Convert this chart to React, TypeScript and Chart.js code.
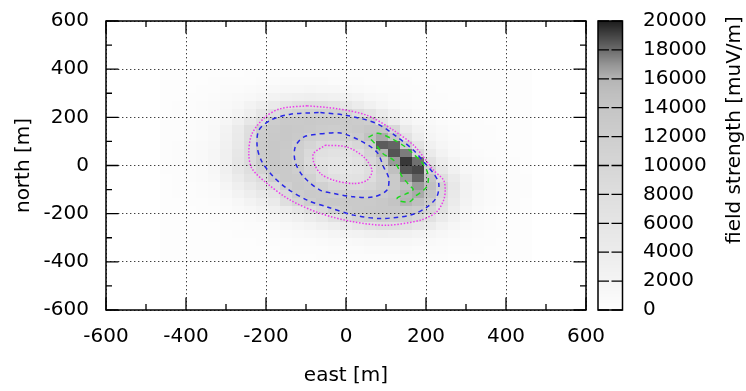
import { useEffect, useRef } from 'react';
import { Chart, registerables } from 'chart.js';

Chart.register(...registerables);

// ---------- data ----------
const X_CENTERS = [-450, -420, -390, -360, -330, -300, -270, -240, -210, -180, -150, -120, -90, -60, -30, 0, 30, 60, 90, 120, 150, 180, 210, 240, 270, 300, 330, 360, 390, 420, 450];
const Y_CENTERS = [383.3, 350, 316.7, 283.3, 250, 216.7, 183.3, 150, 116.7, 83.3, 50, 16.7, -16.7, -50, -83.3, -116.7, -150, -183.3, -216.7, -250, -283.3, -316.7, -350, -383.3];

// field strength in thousands of muV/m, one row per Y_CENTERS entry
const HEAT_ROWS: number[][] = [
  [0.2,0.2,0.2,0.3,0.3,0.3,0.3,0.4,0.4,0.4,0.5,0.5,0.5,0.5,0.5,0.5,0.4,0.4,0.4,0.3,0.3,0.3,0.3,0.3,0.2,0.2,0.2,0.2,0.2,0.2,0.2],
  [0.2,0.3,0.3,0.3,0.4,0.4,0.5,0.5,0.6,0.7,0.8,0.8,0.8,0.8,0.7,0.7,0.6,0.5,0.5,0.4,0.4,0.3,0.3,0.3,0.3,0.2,0.2,0.2,0.2,0.2,0.2],
  [0.3,0.3,0.3,0.4,0.5,0.6,0.7,0.8,1.0,1.2,1.4,1.5,1.6,1.5,1.4,1.2,1.0,0.8,0.7,0.6,0.5,0.4,0.4,0.3,0.3,0.3,0.2,0.2,0.2,0.2,0.2],
  [0.3,0.3,0.4,0.5,0.6,0.8,1.0,1.3,1.7,2.2,2.7,3.0,3.2,3.1,2.8,2.4,2.0,1.5,1.2,0.9,0.7,0.5,0.5,0.4,0.3,0.3,0.3,0.2,0.2,0.2,0.2],
  [0.3,0.4,0.5,0.6,0.8,1.0,1.5,2.2,3.2,4.6,6.3,7.4,7.9,7.6,6.8,5.5,4.0,2.8,1.9,1.3,0.9,0.7,0.5,0.4,0.4,0.3,0.3,0.3,0.2,0.2,0.2],
  [0.3,0.4,0.5,0.7,0.9,1.2,2.0,3.3,5.5,7.8,9.8,10.8,11.4,11.6,11.3,10.6,8.2,6.5,4.3,2.7,1.7,1.1,0.8,0.6,0.5,0.4,0.3,0.3,0.3,0.2,0.2],
  [0.4,0.5,0.6,0.8,1.1,1.6,3.0,5.5,8.1,12.2,12.8,13.0,13.1,13.0,12.8,12.6,12.5,11.9,7.0,4.0,2.3,1.4,1.0,0.7,0.5,0.4,0.4,0.3,0.3,0.2,0.2],
  [0.4,0.5,0.7,0.9,1.2,2.2,4.2,7.6,12.1,13.0,13.3,13.2,12.8,12.4,12.3,12.5,13.0,13.6,13.8,9.5,4.5,2.4,1.4,1.0,0.7,0.5,0.4,0.4,0.3,0.3,0.2],
  [0.4,0.5,0.7,0.9,1.3,2.5,4.6,8.0,12.3,13.2,13.4,12.8,11.6,11.0,10.8,11.2,12.3,14.5,16.3,13.5,7.0,3.5,1.8,1.2,0.8,0.6,0.5,0.4,0.3,0.3,0.2],
  [0.4,0.6,0.8,1.0,1.5,2.8,5.0,8.4,12.4,13.3,13.1,11.8,10.2,8.8,8.3,8.6,9.8,11.7,18.4,18.2,12.0,6.0,2.8,1.6,1.0,0.7,0.5,0.4,0.4,0.3,0.3],
  [0.4,0.6,0.8,1.0,1.6,3.0,5.3,8.5,12.5,13.4,13.0,11.6,9.0,7.4,6.8,7.0,8.0,10.5,16.0,18.6,17.6,9.5,4.2,2.2,1.3,0.9,0.6,0.5,0.4,0.3,0.3],
  [0.4,0.6,0.8,1.0,1.6,3.0,5.6,8.5,12.0,13.3,12.9,11.4,8.6,6.6,5.9,5.9,6.8,9.2,12.0,16.8,19.3,17.9,7.0,3.6,2.0,1.2,0.8,0.6,0.5,0.4,0.3],
  [0.4,0.5,0.7,0.9,1.5,2.9,5.4,7.8,10.8,12.8,13.0,12.1,9.8,7.6,6.0,5.5,6.0,7.8,11.2,14.8,18.6,18.9,10.5,5.5,2.8,1.5,1.0,0.7,0.5,0.4,0.3],
  [0.3,0.5,0.6,0.8,1.2,2.4,4.4,6.6,8.3,11.9,13.0,12.6,11.2,8.8,7.3,6.7,7.0,8.3,10.8,13.0,16.8,18.2,14.0,8.0,4.2,2.2,1.3,0.9,0.6,0.5,0.4],
  [0.3,0.4,0.5,0.7,0.9,1.8,3.2,4.8,6.6,8.6,11.4,12.8,12.4,11.2,9.8,9.0,9.0,9.8,11.3,12.8,14.6,16.8,14.8,10.5,5.2,2.6,1.4,0.9,0.6,0.5,0.4],
  [0.3,0.4,0.5,0.6,0.8,1.2,2.2,3.4,4.8,6.4,9.0,12.2,13.0,12.7,12.0,11.5,11.4,11.6,12.4,13.6,15.6,16.3,14.0,9.2,5.0,2.5,1.3,0.9,0.6,0.5,0.4],
  [0.3,0.3,0.4,0.5,0.7,0.9,1.5,2.3,3.3,4.6,7.8,10.0,11.9,12.8,13.1,13.0,12.9,13.0,13.4,14.2,15.9,14.8,12.2,8.1,4.3,2.2,1.2,0.8,0.6,0.4,0.3],
  [0.2,0.3,0.3,0.4,0.5,0.7,1.0,1.5,2.1,2.9,4.0,5.6,7.6,9.4,11.5,12.5,13.0,13.2,13.3,13.3,13.1,12.4,10.0,6.8,3.6,1.9,1.1,0.7,0.5,0.4,0.3],
  [0.2,0.2,0.3,0.3,0.4,0.5,0.7,0.9,1.2,1.6,2.2,3.0,4.0,5.2,7.2,8.8,10.4,11.6,12.1,11.8,11.0,9.4,6.8,4.3,2.5,1.5,0.9,0.6,0.5,0.3,0.3],
  [0.2,0.2,0.2,0.3,0.3,0.4,0.5,0.6,0.7,0.9,1.2,1.6,2.1,2.7,3.4,4.4,5.6,6.9,7.8,7.7,6.8,5.4,3.9,2.6,1.7,1.1,0.8,0.6,0.4,0.3,0.3],
  [0.2,0.2,0.2,0.2,0.3,0.3,0.4,0.4,0.5,0.6,0.8,1.0,1.2,1.5,1.8,2.2,2.6,3.0,3.2,3.1,2.8,2.3,1.8,1.4,1.0,0.8,0.6,0.5,0.4,0.3,0.2],
  [0.2,0.2,0.2,0.2,0.2,0.3,0.3,0.3,0.4,0.5,0.5,0.6,0.7,0.8,1.0,1.1,1.3,1.4,1.5,1.5,1.4,1.2,1.0,0.8,0.7,0.6,0.5,0.4,0.3,0.3,0.2],
  [0.2,0.2,0.2,0.2,0.2,0.2,0.2,0.3,0.3,0.3,0.4,0.4,0.5,0.5,0.6,0.7,0.7,0.8,0.8,0.8,0.8,0.7,0.6,0.6,0.5,0.4,0.4,0.3,0.3,0.2,0.2],
  [0.2,0.2,0.2,0.2,0.2,0.2,0.2,0.2,0.2,0.3,0.3,0.3,0.3,0.4,0.4,0.4,0.5,0.5,0.5,0.5,0.5,0.4,0.4,0.4,0.3,0.3,0.3,0.2,0.2,0.2,0.2],
];

// contour lines [east, north]
const CONTOUR_LOW_OUTER: [number, number][] = [[-97,248],[-23,236],[53,208],[119,146],[169,84],[203,15],[219,-20],[244,-61],[248,-103],[244,-144],[227,-192],[186,-227],[102,-248],[19,-234],[-64,-199],[-139,-144],[-197,-75],[-235,-13],[-243,50],[-235,132],[-202,201],[-164,236],[-97,248]];
const CONTOUR_LOW_INNER: [number, number][] = [[-52,84],[2,77],[44,36],[65,-20],[53,-61],[19,-75],[-31,-61],[-64,-33],[-81,15],[-81,50],[-52,84]];
const CONTOUR_MID_OUTER: [number, number][] = [[-64,220],[2,208],[77,174],[128,118],[169,63],[198,8],[219,-33],[232,-75],[227,-130],[203,-172],[161,-206],[86,-220],[19,-206],[-47,-172],[-97,-144],[-147,-96],[-181,-47],[-210,15],[-222,77],[-218,146],[-189,188],[-139,213],[-64,220]];
const CONTOUR_MID_INNER: [number, number][] = [[-64,132],[-14,135],[36,103],[77,56],[94,-6],[107,-54],[102,-103],[69,-130],[19,-130],[-31,-116],[-64,-103],[-106,-47],[-127,15],[-127,77],[-106,118],[-64,132]];
const CONTOUR_HIGH: [number, number][] = [[56,118],[80,134],[116,110],[146,80],[171,44],[191,10],[203,-25],[206,-55],[202,-88],[190,-108],[175,-125],[160,-150],[135,-148],[128,-135],[150,-118],[168,-100],[160,-85],[150,-66],[138,-40],[132,-15],[119,22],[92,50],[73,90],[56,118]];

const AXIS_MAJOR = [-600, -400, -200, 0, 200, 400, 600];
const AXIS_MINOR = [-500, -300, -100, 100, 300, 500];
const CB_TICKS = [0, 2000, 4000, 6000, 8000, 10000, 12000, 14000, 16000, 18000, 20000];

const PALETTE_VALUES = [0, 2000, 4000, 6000, 8000, 10000, 12000, 14000, 15000, 16000, 17000, 18000, 19000, 20000];
const PALETTE_GRAYS = [254, 244, 236, 229, 222, 214, 206, 197, 191, 180, 148, 108, 68, 28];

const FONT = 'DejaVu Sans';

function grayFor(v: number): string {
  let g = PALETTE_GRAYS[0];
  if (v >= PALETTE_VALUES[PALETTE_VALUES.length - 1]) g = PALETTE_GRAYS[PALETTE_GRAYS.length - 1];
  else if (v > PALETTE_VALUES[0]) {
    for (let i = 1; i < PALETTE_VALUES.length; i++) {
      if (v <= PALETTE_VALUES[i]) {
        const t = (v - PALETTE_VALUES[i - 1]) / (PALETTE_VALUES[i] - PALETTE_VALUES[i - 1]);
        g = PALETTE_GRAYS[i - 1] + t * (PALETTE_GRAYS[i] - PALETTE_GRAYS[i - 1]);
        break;
      }
    }
  }
  const c = Math.round(g);
  return `rgb(${c},${c},${c})`;
}

function edges(c: number[]): number[] {
  const e: number[] = [c[0] - (c[1] - c[0]) / 2];
  for (let i = 1; i < c.length; i++) e.push((c[i - 1] + c[i]) / 2);
  e.push(c[c.length - 1] + (c[c.length - 1] - c[c.length - 2]) / 2);
  return e;
}

const heatmapPlugin = {
  id: 'heatmap',
  beforeDraw(chart: any) {
    const { ctx, chartArea: a } = chart;
    const xs = chart.scales.x, ys = chart.scales.y;
    ctx.save();
    ctx.beginPath();
    ctx.rect(a.left, a.top, a.right - a.left, a.bottom - a.top);
    ctx.clip();
    ctx.fillStyle = '#ffffff';
    ctx.fillRect(a.left, a.top, a.right - a.left, a.bottom - a.top);
    const xe = edges(X_CENTERS), ye = edges(Y_CENTERS);
    for (let r = 0; r < HEAT_ROWS.length; r++) {
      for (let c = 0; c < X_CENTERS.length; c++) {
        const x0 = Math.round(xs.getPixelForValue(xe[c]));
        const x1 = Math.round(xs.getPixelForValue(xe[c + 1]));
        const y0 = Math.round(ys.getPixelForValue(ye[r]));
        const y1 = Math.round(ys.getPixelForValue(ye[r + 1]));
        ctx.fillStyle = grayFor(HEAT_ROWS[r][c] * 1000);
        ctx.fillRect(Math.min(x0, x1), Math.min(y0, y1), Math.abs(x1 - x0), Math.abs(y1 - y0));
      }
    }
    ctx.restore();
  },
};

const framePlugin = {
  id: 'frame',
  afterDraw(chart: any) {
    const { ctx, chartArea: a } = chart;
    const xs = chart.scales.x, ys = chart.scales.y, cb = chart.scales.cb;
    const MAJ = 12.5, MIN = 6;
    ctx.save();
    ctx.strokeStyle = '#000';
    ctx.lineWidth = 1.3;
    ctx.beginPath();
    const tickX = (v: number, len: number) => {
      const p = xs.getPixelForValue(v);
      ctx.moveTo(p, a.bottom); ctx.lineTo(p, a.bottom - len);
      ctx.moveTo(p, a.top); ctx.lineTo(p, a.top + len);
    };
    const tickY = (v: number, len: number) => {
      const p = ys.getPixelForValue(v);
      ctx.moveTo(a.left, p); ctx.lineTo(a.left + len, p);
      ctx.moveTo(a.right, p); ctx.lineTo(a.right - len, p);
    };
    AXIS_MAJOR.forEach((v) => { tickX(v, MAJ); tickY(v, MAJ); });
    AXIS_MINOR.forEach((v) => { tickX(v, MIN); tickY(v, MIN); });
    ctx.stroke();
    ctx.lineWidth = 1.5;
    ctx.strokeRect(a.left, a.top, a.right - a.left, a.bottom - a.top);

    // colour box
    const bl = 598, br = 622.5;
    const top = cb.getPixelForValue(20000), bot = cb.getPixelForValue(0);
    for (let py = Math.floor(top); py < Math.ceil(bot); py++) {
      const v = cb.getValueForPixel(py + 0.5);
      ctx.fillStyle = grayFor(v);
      ctx.fillRect(bl, py, br - bl, 1);
    }
    ctx.lineWidth = 1.3;
    ctx.beginPath();
    CB_TICKS.forEach((v) => {
      const p = cb.getPixelForValue(v);
      ctx.moveTo(bl, p); ctx.lineTo(bl + 11, p);
      ctx.moveTo(br, p); ctx.lineTo(br - 11, p);
    });
    ctx.stroke();
    ctx.lineWidth = 1.5;
    ctx.strokeRect(bl, top, br - bl, bot - top);

    ctx.fillStyle = '#000';
    ctx.font = `20px "${FONT}"`;
    ctx.textAlign = 'center';
    ctx.textBaseline = 'middle';
    ctx.translate(735, 130);
    ctx.rotate(-Math.PI / 2);
    ctx.fillText('field strength [muV/m]', 0, 0);
    ctx.restore();
  },
};

function line(points: [number, number][], color: string, dash: number[]) {
  return {
    data: points.map(([x, y]) => ({ x, y })),
    showLine: true,
    borderColor: color,
    borderWidth: 1.5,
    borderDash: dash,
    pointRadius: 0,
    fill: false,
    tension: 0.3,
  };
}

export default function App() {
  const ref = useRef<HTMLCanvasElement | null>(null);
  useEffect(() => {
    document.body.style.margin = '0';
    document.body.style.overflow = 'hidden';
    const canvas = ref.current!;
    const tickFont = { family: FONT, size: 20 };
    const fixV = (w: number) => (s: any) => { s.width = w; s.paddingTop = 0; s.paddingBottom = 0; };
    const chart = new Chart(canvas, {
      type: 'scatter',
      data: {
        datasets: [
          line(CONTOUR_LOW_OUTER, 'rgb(235,60,235)', [1.5, 1.7]),
          line(CONTOUR_LOW_INNER, 'rgb(235,60,235)', [1.5, 1.7]),
          line(CONTOUR_MID_OUTER, 'rgb(40,40,230)', [4.5, 4]),
          line(CONTOUR_MID_INNER, 'rgb(40,40,230)', [4.5, 4]),
          line(CONTOUR_HIGH, 'rgb(30,215,30)', [5, 4]),
        ] as any,
      },
      options: {
        responsive: false,
        animation: false,
        layout: { padding: { top: 21, left: 0, right: 0, bottom: 0 } },
        plugins: { legend: { display: false }, tooltip: { enabled: false } },
        scales: {
          x: {
            type: 'linear', position: 'bottom', min: -600, max: 600,
            afterFit: (s: any) => { s.height = 81; s.paddingLeft = 0; s.paddingRight = 0; },
            ticks: { stepSize: 200, font: tickFont, color: '#000', padding: 15, autoSkip: false, maxRotation: 0, callback: (v: any) => String(v) },
            grid: { color: 'rgba(0,0,0,0.75)', lineWidth: 1, drawTicks: false },
            border: { display: false, dash: [1.4, 2.6] },
            title: { display: true, text: 'east [m]', font: tickFont, color: '#000', padding: { top: 0, bottom: 3 } },
          },
          y: {
            type: 'linear', position: 'left', min: -600, max: 600,
            afterFit: fixV(106),
            ticks: { stepSize: 200, font: tickFont, color: '#000', padding: 17, autoSkip: false, callback: (v: any) => String(v) },
            grid: { color: 'rgba(0,0,0,0.75)', lineWidth: 1, drawTicks: false },
            border: { display: false, dash: [1.4, 2.6] },
            title: { display: true, text: 'north [m]', font: tickFont, color: '#000', padding: { top: 12, bottom: 0 } },
          },
          cb: {
            type: 'linear', position: 'right', min: 0, max: 20000,
            afterFit: fixV(160),
            ticks: { stepSize: 2000, font: tickFont, color: '#000', padding: 57, autoSkip: false, callback: (v: any) => String(v) },
            grid: { display: false, drawTicks: false },
            border: { display: false },
          },
        } as any,
      },
      plugins: [heatmapPlugin, framePlugin],
    });
    return () => chart.destroy();
  }, []);
  return (
    <div style={{ width: 746, height: 391 }}>
      <canvas ref={ref} width={746} height={391} style={{ display: 'block' }} />
    </div>
  );
}
